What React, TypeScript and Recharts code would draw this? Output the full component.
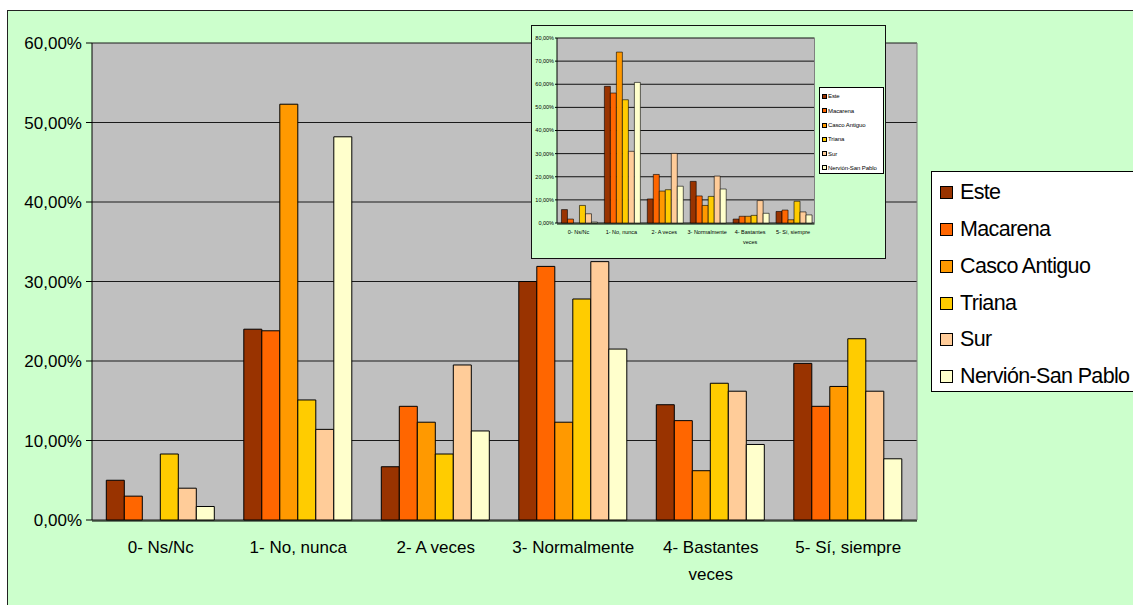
import React from "react";
import { BarChart, Bar, CartesianGrid, Legend, XAxis, YAxis } from "recharts";

const categories = [
  "0- Ns/Nc",
  "1- No, nunca",
  "2- A veces",
  "3- Normalmente",
  "4- Bastantes veces",
  "5- Sí, siempre",
];

const districts = ["Este", "Macarena", "Casco Antiguo", "Triana", "Sur", "Nervión-San Pablo"];
const districtColors = ["#993300", "#FF6600", "#FF9900", "#FFCC00", "#FFCC99", "#FFFFCC"];

// main chart, % per answer
const mainEste = [5.0, 24.0, 6.7, 30.0, 14.5, 19.7];
const mainMacarena = [3.0, 23.8, 14.3, 31.9, 12.5, 14.3];
const mainCasco = [0, 52.3, 12.3, 12.3, 6.2, 16.8];
const mainTriana = [8.3, 15.1, 8.3, 27.8, 17.2, 22.8];
const mainSur = [4.0, 11.4, 19.5, 32.5, 16.2, 16.2];
const mainNervion = [1.7, 48.2, 11.2, 21.5, 9.5, 7.7];
const mainTicks = [0, 10, 20, 30, 40, 50, 60];

// small inset chart
const insetEste = [5.8, 59.1, 10.4, 18.0, 1.7, 5.0];
const insetMacarena = [1.7, 56.2, 21.0, 11.7, 2.9, 5.6];
const insetCasco = [0, 73.9, 13.8, 7.6, 2.9, 1.4];
const insetTriana = [7.6, 53.3, 14.4, 11.5, 3.3, 9.4];
const insetSur = [4.0, 31.0, 30.1, 20.3, 9.7, 4.8];
const insetNervion = [0.4, 60.8, 15.9, 14.7, 4.2, 3.5];
const insetTicks = [0, 10, 20, 30, 40, 50, 60, 70, 80];

const edgeTicks = [0, 1, 2, 3, 4, 5, 6];

const FONT = "'Liberation Sans', Arial, sans-serif";

function buildRows(series: number[][]) {
  return categories.map((category, i) => {
    const row: Record<string, string | number> = { category };
    districts.forEach((d, k) => {
      row[d] = series[k][i];
    });
    return row;
  });
}

const mainData = buildRows([mainEste, mainMacarena, mainCasco, mainTriana, mainSur, mainNervion]);
const insetData = buildRows([insetEste, insetMacarena, insetCasco, insetTriana, insetSur, insetNervion]);

const formatPercent = (v: number) => `${v.toFixed(2).replace(".", ",")}%`;

function splitLabel(label: string): string[] {
  if (label.length <= 15) return [label];
  const cut = label.lastIndexOf(" ");
  return [label.slice(0, cut), label.slice(cut + 1)];
}

function makeCategoryTick(fontSize: number, lineHeight: number) {
  return (props: any) => {
    const { x, y, payload } = props;
    const lines = splitLabel(String(payload.value));
    return (
      <text x={x} y={y} textAnchor="middle" fontSize={fontSize} fontFamily={FONT} fill="#000">
        {lines.map((line, i) => (
          <tspan key={i} x={x} dy={i === 0 ? fontSize * 0.7 : lineHeight}>
            {line}
          </tspan>
        ))}
      </text>
    );
  };
}

function makeLegend(opts: {
  fontSize: number;
  rowHeight: number;
  firstRow: number;
  swatch: number;
  swatchLeft: number;
  textLeft: number;
  letterSpacing: number;
}) {
  return (props: any) => {
    const items = [...(props.payload || [])].sort(
      (a: any, b: any) => districts.indexOf(a.value) - districts.indexOf(b.value)
    );
    return (
      <div
        style={{
          width: "100%",
          height: "100%",
          boxSizing: "border-box",
          border: "1px solid #000",
          background: "#fff",
          position: "relative",
          fontFamily: FONT,
        }}
      >
        {items.map((entry: any, i: number) => (
          <div
            key={entry.value}
            style={{
              position: "absolute",
              left: 0,
              top: opts.firstRow + i * opts.rowHeight - opts.rowHeight / 2,
              height: opts.rowHeight,
              display: "flex",
              alignItems: "center",
              whiteSpace: "nowrap",
            }}
          >
            <span
              style={{
                marginLeft: opts.swatchLeft,
                width: opts.swatch,
                height: opts.swatch,
                boxSizing: "border-box",
                border: "1px solid #000",
                background: entry.color,
              }}
            />
            <span
              style={{
                marginLeft: opts.textLeft - opts.swatchLeft - opts.swatch,
                fontSize: opts.fontSize,
                letterSpacing: opts.letterSpacing,
                color: "#000",
              }}
            >
              {entry.value}
            </span>
          </div>
        ))}
      </div>
    );
  };
}

const mainLegend = makeLegend({
  fontSize: 21.5,
  rowHeight: 36.7,
  firstRow: 21,
  swatch: 13,
  swatchLeft: 8,
  textLeft: 28,
  letterSpacing: -0.65,
});

const insetLegend = makeLegend({
  fontSize: 6,
  rowHeight: 14.3,
  firstRow: 8.5,
  swatch: 5,
  swatchLeft: 2,
  textLeft: 8,
  letterSpacing: -0.1,
});

export default function App() {
  return (
    <div
      style={{
        position: "fixed",
        left: 0,
        top: 0,
        width: 1133,
        height: 605,
        overflow: "hidden",
        background: "#fff",
      }}
    >
      <div
        style={{
          position: "absolute",
          left: 7,
          top: 10,
          width: 1140,
          height: 610,
          background: "#CCFFCC",
          border: "1.5px solid #222",
          boxSizing: "border-box",
        }}
      />
      <div style={{ position: "absolute", left: 0, top: 0 }}>
        <BarChart
          width={1133}
          height={605}
          data={mainData}
          margin={{ top: 43, right: 215, bottom: 83, left: 91 }}
          barCategoryGap="10.4%"
          barGap={0}
        >
          <CartesianGrid fill="#C0C0C0" stroke="#1a1a1a" vertical={false} yAxisId="left" xAxisId="cat" />
          <XAxis
            xAxisId="edges"
            type="number"
            domain={[0, 6]}
            ticks={edgeTicks}
            allowDataOverflow
            height={1}
            tick={false}
            tickSize={6}
            axisLine={{ stroke: "#000" }}
            tickLine={{ stroke: "#000" }}
          />
          <XAxis
            xAxisId="cat"
            dataKey="category"
            height={1}
            axisLine={false}
            tickLine={false}
            tickSize={0}
            tickMargin={21}
            interval={0}
            tick={makeCategoryTick(17, 27)}
          />
          <YAxis
            yAxisId="left"
            width={1}
            domain={[0, 60]}
            ticks={mainTicks}
            tickFormatter={formatPercent}
            tickSize={6}
            tickMargin={4}
            interval={0}
            axisLine={{ stroke: "#000" }}
            tickLine={{ stroke: "#000" }}
            tick={{ fill: "#000", fontSize: 17, fontFamily: FONT }}
          />
          <YAxis
            yAxisId="right"
            orientation="right"
            width={1}
            domain={[0, 60]}
            tick={false}
            tickLine={false}
            axisLine={{ stroke: "#808080" }}
          />
          <Legend
            layout="horizontal"
            verticalAlign="middle"
            content={mainLegend}
            wrapperStyle={{ left: 931, top: 171, width: 215, height: 221 }}
          />
          {districts.map((d, k) => (
            <Bar
              key={d}
              dataKey={d}
              name={d}
              xAxisId="cat"
              yAxisId="left"
              fill={districtColors[k]}
              stroke="#000"
              strokeWidth={1}
              isAnimationActive={false}
            />
          ))}
        </BarChart>
      </div>

      <div
        style={{
          position: "absolute",
          left: 531,
          top: 25,
          width: 355,
          height: 234,
          background: "#CCFFCC",
          border: "1.5px solid #111",
          boxSizing: "border-box",
        }}
      >
        <BarChart
          width={352}
          height={231}
          data={insetData}
          margin={{ top: 12, right: 68.5, bottom: 32, left: 24 }}
          barCategoryGap="10.4%"
          barGap={0}
        >
          <CartesianGrid fill="#C0C0C0" stroke="#111" vertical={false} yAxisId="left" xAxisId="cat" />
          <XAxis
            xAxisId="edges"
            type="number"
            domain={[0, 6]}
            ticks={edgeTicks}
            allowDataOverflow
            height={1}
            tick={false}
            tickSize={2}
            axisLine={{ stroke: "#000" }}
            tickLine={{ stroke: "#000" }}
          />
          <XAxis
            xAxisId="cat"
            dataKey="category"
            height={1}
            axisLine={false}
            tickLine={false}
            tickSize={0}
            tickMargin={7}
            interval={0}
            tick={makeCategoryTick(5.5, 10)}
          />
          <YAxis
            yAxisId="left"
            width={1}
            domain={[0, 80]}
            ticks={insetTicks}
            tickFormatter={formatPercent}
            tickSize={2}
            tickMargin={1}
            interval={0}
            axisLine={{ stroke: "#000" }}
            tickLine={{ stroke: "#000" }}
            tick={{ fill: "#000", fontSize: 5.5, fontFamily: FONT }}
          />
          <YAxis
            yAxisId="right"
            orientation="right"
            width={1}
            domain={[0, 80]}
            tick={false}
            tickLine={false}
            axisLine={{ stroke: "#808080" }}
          />
          <Legend
            layout="horizontal"
            verticalAlign="middle"
            content={insetLegend}
            wrapperStyle={{ left: 287, top: 61, width: 65, height: 87 }}
          />
          {districts.map((d, k) => (
            <Bar
              key={d}
              dataKey={d}
              name={d}
              xAxisId="cat"
              yAxisId="left"
              fill={districtColors[k]}
              stroke="#000"
              strokeWidth={0.6}
              isAnimationActive={false}
            />
          ))}
        </BarChart>
      </div>
    </div>
  );
}
